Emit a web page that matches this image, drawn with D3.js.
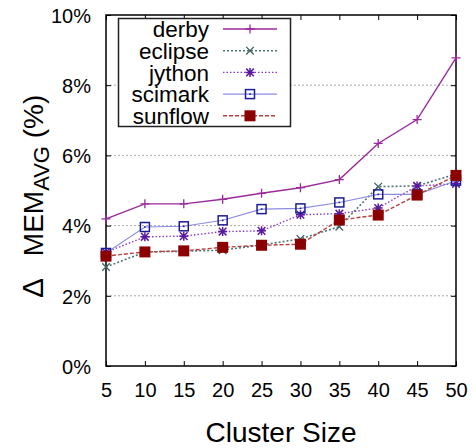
<!DOCTYPE html>
<html>
<head>
<meta charset="utf-8">
<script src="https://cdn.jsdelivr.net/npm/d3@7"></script>
<style>
  html, body { margin: 0; padding: 0; background: #fff; }
  svg { display: block; font-family: "Liberation Sans", Arial, Helvetica, sans-serif; }
</style>
</head>
<body>
<svg id="chart" width="476" height="448"></svg>
<script>
// Cluster sizes on the x axis
const clusterSizes = [5, 10, 15, 20, 25, 30, 35, 40, 45, 50];

// Average memory overhead (%) per benchmark
const derby   = [4.19, 4.62, 4.62, 4.75, 4.92, 5.08, 5.31, 6.34, 7.02, 8.78];
const eclipse = [2.82, 3.25, 3.27, 3.30, 3.45, 3.62, 3.97, 5.11, 5.13, 5.47];
const jython  = [3.24, 3.68, 3.70, 3.83, 3.85, 4.31, 4.34, 4.50, 5.13, 5.19];
const scimark = [3.22, 3.96, 3.98, 4.15, 4.47, 4.49, 4.66, 4.89, 4.89, 5.28];
const sunflow = [3.13, 3.25, 3.28, 3.38, 3.44, 3.47, 4.16, 4.30, 4.87, 5.43];

const seriesNames = ["derby", "eclipse", "jython", "scimark", "sunflow"];
const yTicks = [0, 2, 4, 6, 8, 10];
const xTicks = clusterSizes;

const seriesData = { derby, eclipse, jython, scimark, sunflow };

const styles = {
  derby:   { line: "#9b2a9b", mark: "#9b2a9b", dash: null,    width: 1.4, shape: "plus" },
  eclipse: { line: "#4f7575", mark: "#3f6060", dash: "2,2",   width: 1.6, shape: "cross" },
  jython:  { line: "#8a3ad4", mark: "#5a1a9e", dash: "1.5,2", width: 1.4, shape: "star" },
  scimark: { line: "#8c8ce0", mark: "#1c1c96", dash: null,    width: 1.1, shape: "square" },
  sunflow: { line: "#b84040", mark: "#8b0000", dash: "4,2",   width: 1.4, shape: "fsquare" }
};

const svg = d3.select("#chart");
const m = { left: 106, right: 20, top: 15, bottom: 82 };
const W = 476, H = 448;
const x = d3.scaleLinear().domain([5, 50]).range([m.left, W - m.right]);
const y = d3.scaleLinear().domain([0, 10]).range([H - m.bottom, m.top]);

// Horizontal grid
svg.append("g").selectAll("line").data(yTicks.filter(v => v > 0 && v < 10)).join("line")
  .attr("x1", x(5)).attr("x2", x(50))
  .attr("y1", d => y(d)).attr("y2", d => y(d))
  .attr("stroke", "#a8a8a8").attr("stroke-width", 1).attr("stroke-dasharray", "2,2");

// Axes with inward ticks (mirrored on top and right)
const tickLen = 5;
const axB = svg.append("g").attr("transform", `translate(0,${y(0)})`)
  .call(d3.axisBottom(x).tickValues(xTicks).tickSizeInner(-tickLen).tickSizeOuter(0).tickPadding(0));
axB.select(".domain").remove();
axB.selectAll("text").attr("dy", null).attr("y", 31).attr("font-size", 20).attr("fill", "#000")
  .attr("font-family", "Liberation Sans, Arial, sans-serif");
axB.selectAll("line").attr("stroke", "#000");

const axT = svg.append("g").attr("transform", `translate(0,${y(10)})`)
  .call(d3.axisTop(x).tickValues(xTicks).tickSizeInner(-tickLen).tickSizeOuter(0).tickFormat(""));
axT.select(".domain").remove();
axT.selectAll("line").attr("stroke", "#000");

const axL = svg.append("g").attr("transform", `translate(${x(5)},0)`)
  .call(d3.axisLeft(y).tickValues(yTicks).tickSizeInner(-tickLen).tickSizeOuter(0).tickPadding(15)
    .tickFormat(d => d + "%"));
axL.select(".domain").remove();
axL.selectAll("text").attr("font-size", 20).attr("fill", "#000").attr("dy", "0.36em")
  .attr("font-family", "Liberation Sans, Arial, sans-serif");
axL.selectAll("line").attr("stroke", "#000");

const axR = svg.append("g").attr("transform", `translate(${x(50)},0)`)
  .call(d3.axisRight(y).tickValues(yTicks).tickSizeInner(-tickLen).tickSizeOuter(0).tickFormat(""));
axR.select(".domain").remove();
axR.selectAll("line").attr("stroke", "#000");

// Plot border
svg.append("rect")
  .attr("x", x(5)).attr("y", y(10))
  .attr("width", x(50) - x(5)).attr("height", y(0) - y(10))
  .attr("fill", "none").attr("stroke", "#000").attr("stroke-width", 1.5);

// Point markers
function drawMarker(g, shape, color, cx, cy) {
  const s = 4.5;
  if (shape === "plus") {
    g.append("path").attr("d", `M${cx - s},${cy}H${cx + s}M${cx},${cy - s}V${cy + s}`)
      .attr("stroke", color).attr("stroke-width", 1.3).attr("fill", "none");
  } else if (shape === "cross") {
    const t = 3.8;
    g.append("path").attr("d", `M${cx - t},${cy - t}L${cx + t},${cy + t}M${cx - t},${cy + t}L${cx + t},${cy - t}`)
      .attr("stroke", color).attr("stroke-width", 1.3).attr("fill", "none");
  } else if (shape === "star") {
    const t = 3.8;
    g.append("path").attr("d",
      `M${cx - s},${cy}H${cx + s}M${cx},${cy - s}V${cy + s}` +
      `M${cx - t},${cy - t}L${cx + t},${cy + t}M${cx - t},${cy + t}L${cx + t},${cy - t}`)
      .attr("stroke", color).attr("stroke-width", 1.5).attr("fill", "none");
  } else if (shape === "square") {
    const h = 4.5;
    g.append("rect").attr("x", cx - h).attr("y", cy - h).attr("width", 2 * h).attr("height", 2 * h)
      .attr("fill", "none").attr("stroke", color).attr("stroke-width", 1.5);
    g.append("rect").attr("x", cx - 0.8).attr("y", cy - 0.8).attr("width", 1.6).attr("height", 1.6)
      .attr("fill", color);
  } else if (shape === "fsquare") {
    const h = 5.5;
    g.append("rect").attr("x", cx - h).attr("y", cy - h).attr("width", 2 * h).attr("height", 2 * h)
      .attr("fill", color);
  }
}

const line = d3.line().x((d, i) => x(clusterSizes[i])).y(d => y(d));

// Series lines and markers
seriesNames.forEach(name => {
  const st = styles[name];
  const g = svg.append("g").attr("class", "series-" + name);
  g.append("path").datum(seriesData[name])
    .attr("d", line)
    .attr("fill", "none")
    .attr("stroke", st.line)
    .attr("stroke-width", st.width)
    .attr("stroke-dasharray", st.dash);
  seriesData[name].forEach((v, i) => drawMarker(g, st.shape, st.mark, x(clusterSizes[i]), y(v)));
});

// Legend
const lg = svg.append("g");
lg.append("rect").attr("x", 118.5).attr("y", 18.5).attr("width", 172).attr("height", 108)
  .attr("fill", "#fff").attr("stroke", "#222").attr("stroke-width", 1.5);
seriesNames.forEach((name, i) => {
  const st = styles[name];
  const cy = 29 + i * 21.7;
  lg.append("text").attr("x", 209).attr("y", cy).attr("dy", "0.36em")
    .attr("text-anchor", "end").attr("font-size", 22.5).attr("fill", "#000").text(name);
  lg.append("line").attr("x1", 223).attr("x2", 277).attr("y1", cy).attr("y2", cy)
    .attr("stroke", st.line).attr("stroke-width", st.width).attr("stroke-dasharray", st.dash);
  drawMarker(lg, st.shape, st.mark, 250, cy);
});

// Axis titles
svg.append("text")
  .attr("x", (x(5) + x(50)) / 2).attr("y", 442)
  .attr("text-anchor", "middle").attr("font-size", 28).attr("fill", "#000")
  .text("Cluster Size");

const yt = svg.append("text")
  .attr("transform", `translate(43,298) rotate(-90)`)
  .attr("text-anchor", "start").attr("font-size", 28).attr("fill", "#000");
yt.append("tspan").attr("font-size", 30).text("Δ");
yt.append("tspan").attr("dx", 14).text(" MEM");
yt.append("tspan").attr("font-size", 22).attr("dx", 0).attr("dy", 6).text("AVG");
yt.append("tspan").attr("dy", -6).text(" (%)");
</script>
</body>
</html>
